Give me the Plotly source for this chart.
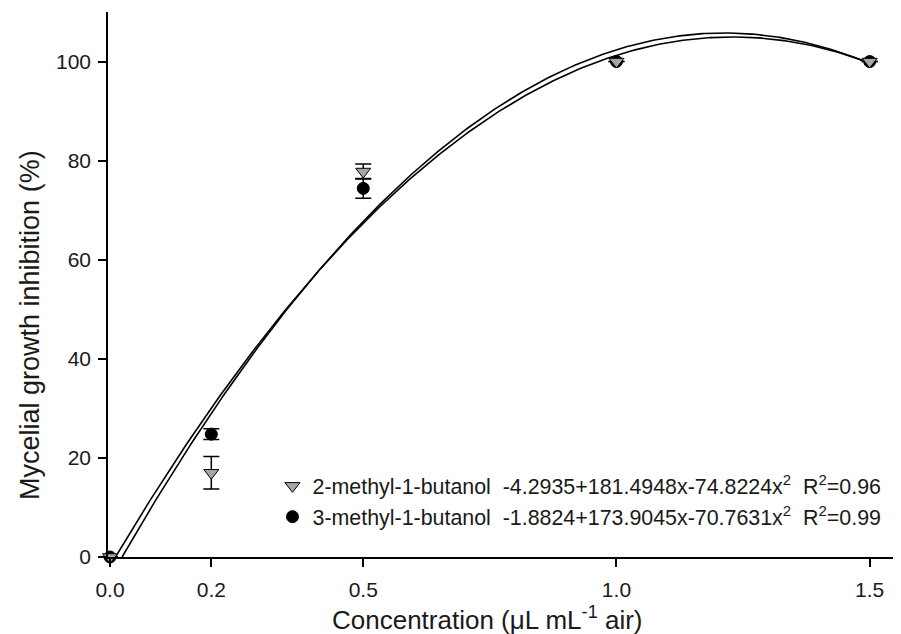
import numpy as np
import plotly.graph_objects as go

# Data
conc = [0.0, 0.2, 0.5, 1.0, 1.5]
m2_mean = [0.0, 17.0, 77.8, 100.0, 100.0]
m2_err = [0.0, 3.3, 1.5, 0.0, 0.0]
m3_mean = [0.0, 24.8, 74.4, 100.0, 100.0]
m3_err = [0.0, 1.1, 2.0, 0.0, 0.0]

m2_coef = [-4.2935, 181.4948, -74.8224]
m3_coef = [-1.8824, 173.9045, -70.7631]

x_ticks = [0.0, 0.2, 0.5, 1.0, 1.5]
x_tick_text = ["0.0", "0.2", "0.5", "1.0", "1.5"]
y_ticks = [0, 20, 40, 60, 80, 100]

x_title = "Concentration (\u03bcL mL<sup>-1</sup> air)"
y_title = "Mycelial growth inhibition (%)"

SP = "&nbsp;&nbsp;"
name_m2 = "2-methyl-1-butanol" + SP + "-4.2935+181.4948x-74.8224x<sup>2</sup>" + SP + "R<sup>2</sup>=0.96"
name_m3 = "3-methyl-1-butanol" + SP + "-1.8824+173.9045x-70.7631x<sup>2</sup>" + SP + "R<sup>2</sup>=0.99"


def fit_curve(coef):
    a, b, c = coef
    root = (-b + np.sqrt(b * b - 4 * c * a)) / (2 * c)
    xs = np.linspace(root, 1.5, 300)
    return xs, a + b * xs + c * xs ** 2


fig = go.Figure()

for coef in (m2_coef, m3_coef):
    xs, ys = fit_curve(coef)
    fig.add_trace(go.Scatter(x=xs, y=ys, mode="lines",
                             line=dict(color="black", width=1.6),
                             showlegend=False, hoverinfo="skip"))

fig.add_trace(go.Scatter(
    x=conc, y=m3_mean, mode="markers", name=name_m3,
    legendgroup="b", legendrank=2,
    marker=dict(symbol="circle", size=12, color="black",
                line=dict(color="black", width=1)),
    error_y=dict(type="data", array=m3_err, visible=True, color="black",
                 thickness=1.5, width=8),
    cliponaxis=False))

fig.add_trace(go.Scatter(
    x=conc, y=m2_mean, mode="markers", name=name_m2,
    legendgroup="a", legendrank=1,
    marker=dict(symbol="triangle-down", size=13, color="#a6a6a6",
                line=dict(color="black", width=1)),
    error_y=dict(type="data", array=m2_err, visible=True, color="black",
                 thickness=1.5, width=8),
    cliponaxis=False))

font_family = "Liberation Sans, Arial, sans-serif"

fig.update_layout(
    width=901, height=634,
    margin=dict(l=100, r=14, t=4, b=85),
    paper_bgcolor="white", plot_bgcolor="white",
    font=dict(family=font_family, size=21, color="#1a1a1a"),
    showlegend=True,
    legend=dict(x=0.209, y=0.168, xanchor="left", yanchor="top",
                bgcolor="rgba(0,0,0,0)", font=dict(size=21.4),
                tracegroupgap=6, traceorder="normal"),
    xaxis=dict(range=[-0.004, 1.55], tickvals=x_ticks, ticktext=x_tick_text,
               showgrid=False, zeroline=False, showline=True,
               linecolor="black", linewidth=1.5,
               ticks="outside", ticklen=8, tickwidth=1.5, tickcolor="black",
               tickfont=dict(size=21), ticklabelstandoff=5),
    yaxis=dict(range=[0, 110], tickvals=y_ticks,
               showgrid=False, zeroline=False, showline=True,
               linecolor="black", linewidth=1.5,
               ticks="outside", ticklen=8, tickwidth=1.5, tickcolor="black",
               tickfont=dict(size=21), ticklabelstandoff=3),
    annotations=[
        dict(text=x_title, xref="paper", yref="paper", x=0.4828, y=-0.112,
             xanchor="center", yanchor="middle", showarrow=False,
             font=dict(size=26)),
        dict(text=y_title, xref="paper", yref="paper", x=-0.0991, y=0.4257,
             xanchor="center", yanchor="middle", showarrow=False,
             textangle=-90, font=dict(size=27)),
    ],
)

fig.write_html("out.html")
